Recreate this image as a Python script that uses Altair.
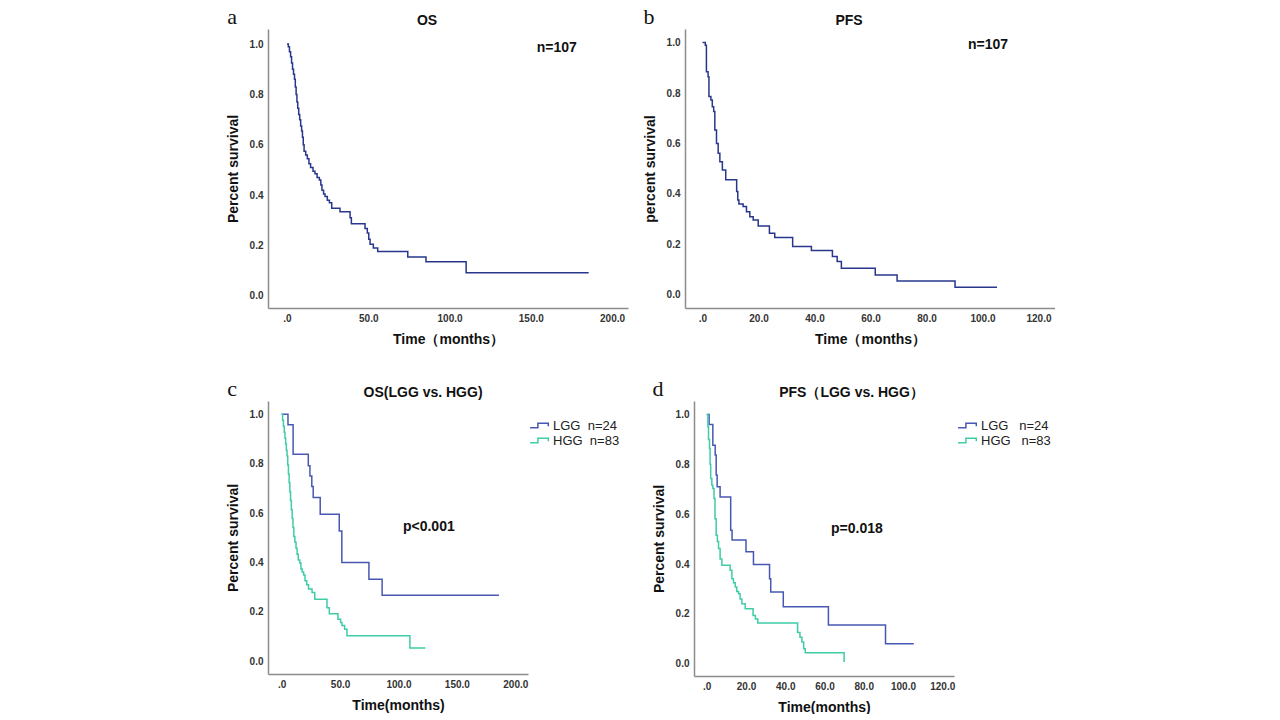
import altair as alt
import pandas as pd

# ---------------- data ----------------
# a: OS, all patients (n=107)
os_t = [0, 0.8, 1.5, 2.2, 2.8, 3.4, 4.0, 4.6, 5.1, 5.6, 6.1, 6.6, 7.2, 7.8, 8.4, 9.0, 9.5, 10.0, 10.5,
        11.5, 12.5, 13.5, 14.5, 16.0, 17.2, 18.5, 19.9, 20.8, 21.5, 22.5, 23.4, 24.8, 26.1, 27.5, 32.6,
        38.8, 39.6, 48.0, 49.4, 50.3, 51.1, 53.1, 55.8, 74.3, 85.5, 110.2, 185.6]
os_s = [1.0, 0.99, 0.97, 0.95, 0.925, 0.90, 0.88, 0.86, 0.83, 0.80, 0.77, 0.745, 0.72, 0.70, 0.675, 0.655,
        0.63, 0.60, 0.575, 0.56, 0.545, 0.525, 0.51, 0.495, 0.485, 0.47, 0.46, 0.44, 0.42, 0.405, 0.395,
        0.38, 0.37, 0.348, 0.334, 0.31, 0.287, 0.268, 0.25, 0.225, 0.205, 0.19, 0.176, 0.155, 0.136,
        0.092, 0.092]

# b: PFS, all patients (n=107)
pfs_t = [0, 1.0, 1.4, 2.0, 2.3, 3.0, 3.5, 4.0, 4.4, 5.0, 5.6, 6.2, 7.1, 8.3, 12.2, 12.6, 13.0, 14.5,
         15.7, 16.9, 18.1, 19.9, 23.9, 25.8, 32.2, 38.9, 46.4, 48.1, 49.6, 61.7, 69.5, 90.2, 105.2]
pfs_s = [1.0, 0.99, 0.885, 0.865, 0.786, 0.773, 0.746, 0.727, 0.654, 0.60, 0.561, 0.528, 0.495, 0.456,
         0.41, 0.376, 0.36, 0.35, 0.33, 0.31, 0.297, 0.273, 0.244, 0.227, 0.192, 0.176, 0.152, 0.132,
         0.106, 0.079, 0.055, 0.03, 0.03]

# c: OS, LGG vs HGG
c_lgg_t = [0, 5.4, 9.8, 22.8, 24.2, 25.8, 27.0, 33.0, 49.3, 51.5, 74.7, 86.0, 186.0]
c_lgg_s = [1.0, 0.958, 0.838, 0.792, 0.75, 0.708, 0.663, 0.596, 0.528, 0.40, 0.333, 0.268, 0.268]
c_hgg_t = [0, 0.8, 1.5, 2.2, 2.8, 3.4, 4.0, 4.6, 5.2, 5.8, 6.4, 7.0, 7.6, 8.3, 9.0, 9.7, 10.4, 11.3,
           12.3, 13.2, 14.2, 15.5, 16.5, 17.6, 18.8, 20.0, 21.5, 23.0, 26.0, 28.3, 38.8, 40.8, 48.2,
           50.5, 51.6, 53.9, 55.9, 109.8, 123.0]
c_hgg_s = [1.0, 0.976, 0.952, 0.928, 0.904, 0.88, 0.855, 0.831, 0.795, 0.759, 0.723, 0.687, 0.651,
           0.614, 0.578, 0.542, 0.506, 0.482, 0.458, 0.434, 0.41, 0.398, 0.374, 0.362, 0.35, 0.326,
           0.31, 0.293, 0.279, 0.252, 0.217, 0.193, 0.171, 0.157, 0.145, 0.13, 0.104, 0.054, 0.054]

# d: PFS, LGG vs HGG
d_lgg_t = [0, 1.2, 3.1, 4.3, 4.8, 5.3, 6.8, 12.2, 12.9, 20.0, 23.8, 32.0, 32.6, 39.0, 62.0, 91.1, 105.5]
d_lgg_s = [1.0, 0.96, 0.877, 0.837, 0.757, 0.71, 0.669, 0.536, 0.496, 0.449, 0.398, 0.341, 0.288,
           0.229, 0.156, 0.08, 0.08]
d_hgg_t = [0, 0.6, 0.9, 1.4, 1.7, 2.0, 2.6, 3.1, 3.7, 4.2, 4.8, 5.4, 6.0, 6.8, 7.7, 11.9, 12.8, 13.6,
           14.5, 15.3, 16.2, 17.0, 17.9, 19.6, 23.6, 24.8, 26.0, 46.3, 47.5, 48.5, 49.4, 50.2, 70.0]
d_hgg_s = [1.0, 0.95, 0.90, 0.863, 0.80, 0.743, 0.716, 0.703, 0.663, 0.582, 0.516, 0.49, 0.462, 0.42,
           0.395, 0.375, 0.341, 0.325, 0.308, 0.29, 0.281, 0.26, 0.241, 0.221, 0.194, 0.18, 0.164,
           0.125, 0.106, 0.087, 0.06, 0.044, 0.007]

groups = ["LGG", "HGG"]
group_n = [24, 83]
x_ticks_os = [0, 50, 100, 150, 200]
x_ticks_pfs = [0, 20, 40, 60, 80, 100, 120]
y_ticks = [0.0, 0.2, 0.4, 0.6, 0.8, 1.0]

# ---------------- styling ----------------
FONT = "Liberation Sans"
NAVY = "#28378c"
LGG_C = "#4858b2"
HGG_C = "#3fcca6"
STEP_PATH = "M-1.6,0.35L-0.4,0.35L-0.4,-0.35L1.2,-0.35L1.2,0.1"


def km(t, s, g=None):
    d = pd.DataFrame({"t": t, "s": s})
    if g is not None:
        d["group"] = g
    return d


def panel(df, xdom, xticks, ydom, ytitle, xtitle, title, letter, note, note_t, note_s,
          w, h, grouped=False, legend_x=0, gap=2):
    x = alt.X("t:Q", scale=alt.Scale(domain=xdom, nice=False, zero=False),
              axis=alt.Axis(values=xticks, title=xtitle,
                            labelExpr="datum.value == 0 ? '.0' : format(datum.value, '.1f')"))
    y = alt.Y("s:Q", scale=alt.Scale(domain=ydom, nice=False, zero=False),
              axis=alt.Axis(values=y_ticks, title=ytitle, labelExpr="format(datum.value, '.1f')"))
    enc = dict(x=x, y=y)
    if grouped:
        sp = "\u00a0" * gap
        labels = " : ".join(
            f"datum.label == '{g}' ? '{g}{sp}n={n}'" for g, n in zip(groups, group_n)
        ) + " : datum.label"
        enc["color"] = alt.Color(
            "group:N",
            scale=alt.Scale(domain=groups, range=[LGG_C, HGG_C]),
            legend=alt.Legend(title=None, orient="none", legendX=legend_x, legendY=17,
                              symbolType=STEP_PATH, symbolSize=169, symbolStrokeWidth=1.5,
                              symbolFillColor="transparent", labelExpr=labels,
                              labelFont=FONT, labelFontSize=13, labelColor="#222",
                              rowPadding=-3, labelOffset=5),
        )
        line = alt.Chart(df).mark_line(interpolate="step-after", strokeWidth=1.5).encode(**enc)
    else:
        line = alt.Chart(df).mark_line(interpolate="step-after", strokeWidth=1.5,
                                       color=NAVY).encode(**enc)
    note_df = pd.DataFrame({"t": [note_t], "s": [note_s], "label": [note]})
    note_layer = alt.Chart(note_df).mark_text(font=FONT, fontSize=14, fontWeight="bold",
                                              color="#111").encode(x=x, y=y, text="label:N")
    letter_layer = alt.Chart(pd.DataFrame({"l": [letter]})).mark_text(
        font="Liberation Serif", fontSize=22, color="#111", align="center", baseline="middle"
    ).encode(text="l:N", x=alt.value(-36), y=alt.value(-12))
    return alt.layer(line, note_layer, letter_layer).properties(
        width=w, height=h,
        title=alt.TitleParams(title, font=FONT, fontSize=14, fontWeight="bold", color="#111",
                              anchor="middle", frame="bounds", offset=-22),
    )


a = panel(km(os_t, os_s), [-11.7, 209.8], x_ticks_os, [-0.048, 1.06], "Percent survival",
          "Time\uff08months\uff09", "OS", "a", "n=107", 166, 0.984, 360, 279)
b = panel(km(pfs_t, pfs_s), [-6.25, 125.9], x_ticks_pfs, [-0.052, 1.054], "percent survival",
          "Time\uff08months\uff09", "PFS", "b", "n=107", 102, 0.99, 370, 279)
c = panel(pd.concat([km(c_lgg_t, c_lgg_s, "LGG"), km(c_hgg_t, c_hgg_s, "HGG")]),
          [-11.7, 210.9], x_ticks_os, [-0.051, 1.054], "Percent survival", "Time(months)",
          "OS(LGG vs. HGG)", "c", "p<0.001", 126, 0.545, 260, 273, grouped=True, legend_x=265,
          gap=2)
d = panel(pd.concat([km(d_lgg_t, d_lgg_s, "LGG"), km(d_hgg_t, d_hgg_s, "HGG")]),
          [-6.5, 126.0], x_ticks_pfs, [-0.049, 1.054], "Percent survival", "Time(months)",
          "PFS\uff08LGG vs. HGG\uff09", "d", "p=0.018", 76.5, 0.54, 260, 275, grouped=True,
          legend_x=267, gap=3)

row1 = alt.hconcat(a, b, spacing=15)
row2 = alt.hconcat(c, d, spacing=32).resolve_scale(color="independent").resolve_legend(
    color="independent")
chart = alt.vconcat(row1, row2, spacing=32).resolve_scale(color="independent").resolve_legend(
    color="independent").properties(
    padding={"left": 218, "top": -2, "right": 0, "bottom": 0}
).configure_view(stroke=None).configure_axis(
    domainColor="#8c8c8c", domainWidth=1.5, ticks=False, grid=False,
    labelFont=FONT, labelFontSize=10, labelFontWeight="bold", labelColor="#333", labelPadding=5,
    titleFont=FONT, titleFontSize=14, titleFontWeight="bold", titleColor="#111", titlePadding=9,
).configure_concat(spacing=15)

chart.save("out.html", embed_options={"renderer": "svg", "actions": False})
